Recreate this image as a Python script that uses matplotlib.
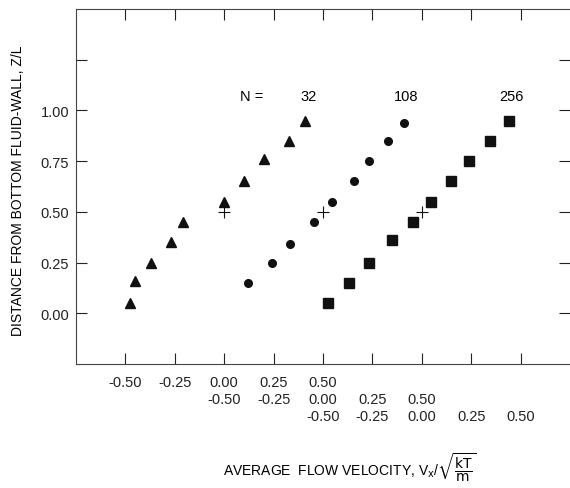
import numpy as np
import matplotlib
matplotlib.use("Agg")
import matplotlib.pyplot as plt

plt.rcParams['font.family'] = ['Liberation Sans', 'DejaVu Sans']
plt.rcParams['axes.unicode_minus'] = False

# data (each series in its own velocity scale)
n_labels = ['32', '108', '256']
offsets = [0.0, 0.5, 1.0]   # horizontal shift of each series' scale

x32 = [-0.475, -0.45, -0.37, -0.27, -0.21, 0.00, 0.10, 0.20, 0.33, 0.41]
y32 = [0.05, 0.16, 0.25, 0.35, 0.45, 0.55, 0.65, 0.76, 0.85, 0.95]

x108 = [-0.38, -0.26, -0.165, -0.047, 0.046, 0.155, 0.235, 0.328, 0.409]
y108 = [0.15, 0.25, 0.34, 0.45, 0.55, 0.65, 0.75, 0.85, 0.94]

x256 = [-0.476, -0.366, -0.269, -0.15, -0.043, 0.047, 0.15, 0.237, 0.346, 0.44]
y256 = [0.05, 0.15, 0.25, 0.36, 0.45, 0.55, 0.65, 0.75, 0.85, 0.95]

# "+" reference point in every series
plus_x = [0.0]
plus_y = [0.5]

vel_ticks = [-0.5, -0.25, 0.0, 0.25, 0.5]
y_ticks = [0.0, 0.25, 0.5, 0.75, 1.0, 1.25]
y_ticklabels = ['0.00', '0.25', '0.50', '0.75', '1.00', '']

fig = plt.figure(figsize=(5.7, 4.89), dpi=100)
ax = fig.add_axes([76/570, 1 - 365/489, 1 - 76/570, 355/489])
ax.set_xlim(-0.75, 1.75)
ax.set_ylim(-0.25, 1.5)

# shared tick positions; each label stacks one line per series scale
all_ticks = [float(v) for v in np.unique(np.round(np.concatenate([np.array(vel_ticks) + o for o in offsets]), 3))]
labels = []
for u in all_ticks:
    rows = []
    for off in offsets:
        s = round(u - off, 3)
        rows.append('%.2f' % s if s in vel_ticks else '')
    labels.append('\n'.join(rows))
ax.set_xticks(all_ticks)
ax.set_xticklabels(labels, linespacing=1.25)
ax.set_yticks(y_ticks)
ax.set_yticklabels(y_ticklabels)
ax.tick_params(axis='both', direction='in', length=8, width=0.8, colors='#222222',
               bottom=True, top=True, left=True, right=True, labelsize=10.5, pad=5)
ax.tick_params(axis='x', pad=8)

for sp in ax.spines.values():
    sp.set_color('#444444')
    sp.set_linewidth(0.8)
ax.spines['right'].set_visible(False)

ink = '#111111'
series = [(x32, y32, '^', 7.5), (x108, y108, 'o', 5.5), (x256, y256, 's', 6.5)]
for (xs, ys, mk, ms), off in zip(series, offsets):
    ax.plot(np.array(xs) + off, ys, ls='none', marker=mk, ms=ms, color=ink)
    ax.plot(np.array(plus_x) + off, plus_y, ls='none', marker='+', ms=9, mew=0.8, color=ink)

ax.text(0.138, 1.07, 'N =', fontsize=10.5, ha='center', va='center')
for lab, xpos in zip(n_labels, [0.426, 0.92, 1.453]):
    ax.text(xpos, 1.07, lab, fontsize=10.5, ha='center', va='center')

ax.set_ylabel('DISTANCE FROM BOTTOM FLUID-WALL, Z/L', fontsize=10, va='center')
ax.yaxis.set_label_coords(-0.117, 0.49)

fig.text(350/570, 1 - 468/489,
         r'AVERAGE  FLOW VELOCITY, V$_{\rm x}$/$\sqrt{\dfrac{\rm kT}{\rm m}}$',
         fontsize=10, ha='center', va='center')

fig.savefig('out.png', dpi=100)
